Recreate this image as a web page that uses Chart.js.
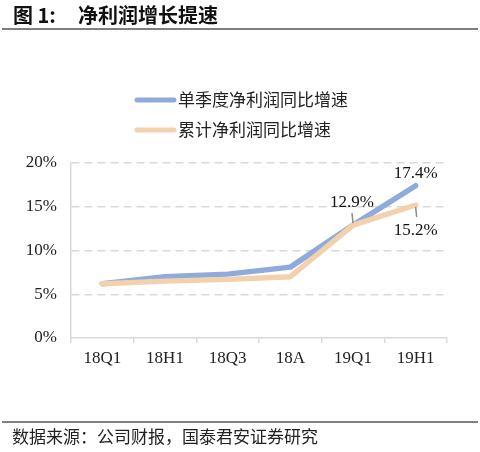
<!DOCTYPE html>
<html>
<head>
<meta charset="utf-8">
<script src="https://cdn.jsdelivr.net/npm/chart.js@4.4.0/dist/chart.umd.min.js"></script>
<style>
  html, body { margin: 0; padding: 0; background: #fff; }
  #wrap { width: 480px; height: 452px; position: relative; }
</style>
</head>
<body>
<div id="wrap"><canvas id="profitChart"></canvas></div>
<script>
// 净利润增长提速 - line chart

const categories = ["18Q1", "18H1", "18Q3", "18A", "19Q1", "19H1"];
const quarterlyGrowth = [6.2, 7.0, 7.3, 8.1, 12.9, 17.4];   // 单季度净利润同比增速 (%)
const cumulativeGrowth = [6.2, 6.5, 6.7, 7.0, 12.9, 15.2];  // 累计净利润同比增速 (%)
const yTicks = [0, 5, 10, 15, 20];

const seriesNames = ["单季度净利润同比增速", "累计净利润同比增速"];
const titleText = ["图 1:", "净利润增长提速"];
const sourceText = "数据来源：公司财报，国泰君安证券研究";

const BLUE = "#8FAADC";
const TAN = "#F3D1AC";
const SERIF = "'Liberation Serif', 'Times New Roman', serif";
const CJK = "'Noto Sans CJK SC', sans-serif";

// which points get a value label: [datasetIndex, pointIndex, dx, dy, leader?]
const pointLabels = [
  [0, 4, -1, -23, true],
  [0, 5, 0, -12, false],
  [1, 5, 0, 26, true],
];

const decorPlugin = {
  id: "decor",
  afterDraw(chart) {
    const c = chart.ctx;
    c.save();

    // title
    c.fillStyle = "#111";
    c.textBaseline = "middle";
    c.font = "bold 20px " + CJK;
    c.fillText(titleText[0], 13, 15);
    c.fillText(titleText[1], 78, 15);

    // rules
    c.fillStyle = "#7f7f7f";
    c.fillRect(2, 28, 476, 2);
    c.fillRect(2, 421, 476, 2);

    // source
    c.fillStyle = "#222";
    c.font = "17px " + CJK;
    c.fillText(sourceText, 12, 437);

    // legend
    const colors = [BLUE, TAN];
    seriesNames.forEach((name, i) => {
      const y = 100 + i * 30;
      c.strokeStyle = colors[i];
      c.lineWidth = 5;
      c.lineCap = "round";
      c.beginPath();
      c.moveTo(137, y);
      c.lineTo(174, y);
      c.stroke();
      c.fillStyle = "#222";
      c.font = "17px " + CJK;
      c.fillText(name, 178, y);
    });

    c.restore();
  },
  afterDatasetsDraw(chart) {
    const c = chart.ctx;
    c.save();
    c.font = "17px " + SERIF;
    c.textAlign = "center";
    c.textBaseline = "middle";
    pointLabels.forEach(([ds, idx, dx, dy, leader]) => {
      const pt = chart.getDatasetMeta(ds).data[idx];
      const v = chart.data.datasets[ds].data[idx];
      if (leader) {
        c.strokeStyle = "#8c8c8c";
        c.lineWidth = 1.5;
        c.beginPath();
        if (dy < 0) {
          c.moveTo(pt.x - 1, pt.y - 12);
          c.lineTo(pt.x, pt.y - 2);
        } else {
          c.moveTo(pt.x, pt.y + 2);
          c.lineTo(pt.x + 1, pt.y + 12);
        }
        c.stroke();
      }
      c.fillStyle = "#111";
      c.fillText(v.toFixed(1) + "%", pt.x + dx, pt.y + dy);
    });
    c.restore();
  },
};

new Chart(document.getElementById("profitChart"), {
  type: "line",
  data: {
    labels: categories,
    datasets: [
      {
        label: seriesNames[0],
        data: quarterlyGrowth,
        borderColor: BLUE,
        borderWidth: 5.5,
        borderCapStyle: "round",
        borderJoinStyle: "round",
        pointRadius: 0,
        tension: 0,
        order: 1,
      },
      {
        label: seriesNames[1],
        data: cumulativeGrowth,
        borderColor: TAN,
        borderWidth: 5.5,
        borderCapStyle: "round",
        borderJoinStyle: "round",
        pointRadius: 0,
        tension: 0,
        order: 0,
      },
    ],
  },
  options: {
    responsive: true,
    maintainAspectRatio: false,
    animation: false,
    layout: { padding: { top: 163, right: 33, bottom: 0, left: 0 } },
    plugins: {
      legend: { display: false },
      tooltip: { enabled: false },
    },
    scales: {
      x: {
        offset: true,
        afterFit: (s) => { s.height = 114; },
        ticks: {
          color: "#222",
          padding: 5,
          font: { family: SERIF, size: 17 },
        },
        grid: {
          offset: true,
          drawOnChartArea: false,
          drawTicks: true,
          tickLength: 5,
          color: "#d9d9d9",
          lineWidth: 1.5,
        },
        border: { color: "#d9d9d9", width: 1.5 },
      },
      y: {
        min: yTicks[0],
        max: yTicks[yTicks.length - 1],
        afterFit: (s) => { s.width = 71; },
        afterBuildTicks: (s) => { s.ticks = yTicks.map((v) => ({ value: v })); },
        ticks: {
          color: "#222",
          padding: 14,
          font: { family: SERIF, size: 17 },
          callback: (v) => v + "%",
        },
        grid: {
          drawTicks: false,
          lineWidth: 1.5,
          color: (ctx) => (ctx.tick && ctx.tick.value === 0 ? "rgba(0,0,0,0)" : "#d9d9d9"),
        },
        border: { color: "#d9d9d9", width: 1.5, dash: [8, 5] },
      },
    },
  },
  plugins: [decorPlugin],
});
</script>
</body>
</html>
